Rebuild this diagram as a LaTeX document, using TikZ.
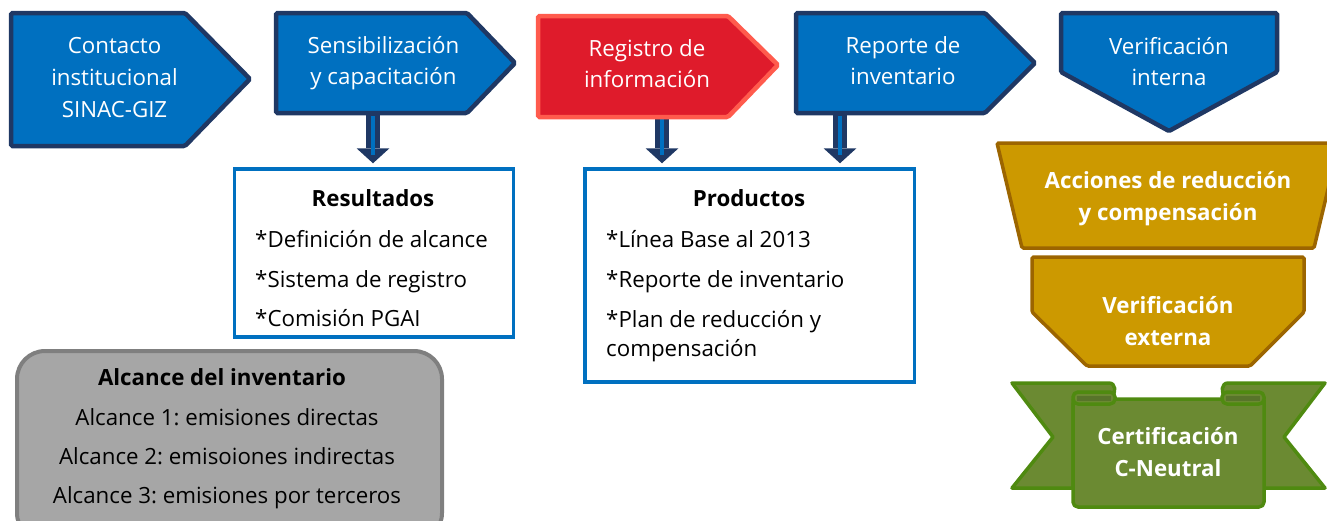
\documentclass[tikz,border=0pt]{standalone}
\usepackage{fontspec}
\setmainfont{Open Sans}
\usetikzlibrary{arrows.meta}
\definecolor{bfill}{HTML}{0070C0}
\definecolor{navy}{HTML}{1F3864}
\definecolor{rfill}{HTML}{DF1B2B}
\definecolor{rline}{HTML}{FF5B4D}
\definecolor{gold}{HTML}{CC9900}
\definecolor{goldline}{HTML}{9C6500}
\definecolor{gfill}{HTML}{6B8A32}
\definecolor{gline}{HTML}{4F8A10}
\definecolor{gdark}{HTML}{58742A}
\definecolor{grayfill}{HTML}{A6A6A6}
\definecolor{grayline}{HTML}{7F7F7F}
\newcommand{\txtfont}{\fontsize{22.3}{27}\selectfont}
\frenchspacing
\begin{document}
\frenchspacing
\begin{tikzpicture}[x=1pt,y=-1pt,
  bluebox/.style={fill=bfill, draw=navy, line width=4.5pt, rounded corners=1.5pt},
  redbox/.style={fill=rfill, draw=rline, line width=4.5pt, rounded corners=1.5pt},
  goldbox/.style={fill=gold, draw=goldline, line width=3.5pt, rounded corners=1.5pt},
  ribbon/.style={fill=gfill, draw=gline, line width=3.5pt, line join=round},
  listbox/.style={draw=bfill, line width=3.5pt, fill=white, inner sep=0pt},
  graybox/.style={draw=grayline, fill=grayfill, line width=4pt, rounded corners=28pt, inner sep=0pt},
  wline/.style={anchor=base, text=white, font=\txtfont, inner sep=0pt},
  wbold/.style={anchor=base, text=white, font=\txtfont\bfseries, inner sep=0pt},
  ktitle/.style={anchor=base, font=\txtfont\bfseries, inner sep=0pt},
  kitem/.style={anchor=base west, font=\txtfont, inner sep=0pt},
  kline/.style={anchor=base, font=\txtfont, inner sep=0pt},
  shaft/.style={draw=navy, line width=14pt, -{Triangle[width=33pt,length=15pt,line width=0pt]}},
  stripe/.style={draw=bfill, line width=4pt}
]
\useasboundingbox (0,0) rectangle (1327,520);

% lower boxes
\node[listbox, minimum width=279pt, minimum height=168pt] (res) at (374,253) {};
\node[listbox, minimum width=329.5pt, minimum height=213pt] (prod) at (749.5,275.5) {};
\node[graybox, minimum width=425pt, minimum height=190pt, anchor=north west] (alc) at (15,349) {};

% block arrows
\coordinate (s1) at (373,110);
\coordinate (s2) at (662,112);
\coordinate (s3) at (840,110);
\draw[shaft, shorten >=4pt] (s1) -- (s1 |- res.north);
\draw[shaft, shorten >=4pt] (s2) -- (s2 |- prod.north);
\draw[shaft, shorten >=4pt] (s3) -- (s3 |- prod.north);
\draw[stripe] ([yshift=-6pt]s1) -- ([yshift=-45pt]s1);
\draw[stripe] ([yshift=-6pt]s2) -- ([yshift=-43pt]s2);
\draw[stripe] ([yshift=-6pt]s3) -- ([yshift=-45pt]s3);

% top process boxes
\draw[bluebox] (11,13) -- (185,13) -- (250,79) -- (185,146) -- (11,146) -- cycle;
\draw[bluebox] (276,13) -- (467,13) -- (515,63) -- (467,113) -- (276,113) -- cycle;
\draw[redbox] (538,16) -- (728,16) -- (778,65) -- (728,117) -- (538,117) -- cycle;
\draw[bluebox] (796,13) -- (985,13) -- (1035,63) -- (985,113) -- (796,113) -- cycle;
\draw[bluebox] (1061,13) -- (1277,13) -- (1277,72) -- (1169,131) -- (1061,72) -- cycle;

\node[wline] (c1) at (114.5,53) {Contacto};
\node[wline] (c2) at (114.5,85) {institucional};
\node[wline] (c3) at (114.5,117) {SINAC-GIZ};
\node[wline] (s1a) at (383.5,53) {Sensibilización};
\node[wline] (s1b) at (383.5,84) {y capacitación};
\node[wline] (r1a) at (647,56) {Registro de};
\node[wline] (r1b) at (647,87) {información};
\node[wline] (p1a) at (903,53) {Reporte de};
\node[wline] (p1b) at (903,84) {inventario};
\node[wline] (v1a) at (1169,54) {Verificación};
\node[wline] (v1b) at (1169,85) {interna};

% right column
\draw[goldbox] (997,143) -- (1339,143) -- (1314,248) -- (1022,248) -- cycle;
\node[wbold] (ac1) at (1168,188) {Acciones de reducción};
\node[wbold] (ac2) at (1168,220) {y compensación};
\draw[goldbox] (1032,257) -- (1304,257) -- (1304,312) -- (1250,366) -- (1087,366) -- (1032,312) -- cycle;
\node[wbold] (ve1) at (1168,313) {Verificación};
\node[wbold] (ve2) at (1168,345) {externa};

% ribbon
\draw[ribbon] (1012,383) -- (1109,383) .. controls (1116,383) and (1116,393) .. (1112,396) -- (1073,400) -- (1073,488) -- (1012,488) -- (1053,437) -- cycle;
\draw[ribbon] (1325,383) -- (1228,383) .. controls (1221,383) and (1221,393) .. (1225,396) -- (1264,400) -- (1264,488) -- (1325,488) -- (1284,437) -- cycle;
\draw[ribbon, rounded corners=5pt] (1073,399) rectangle (1264,507);
\draw[ribbon, rounded corners=5pt] (1073,392) rectangle (1115,404);
\draw[ribbon, rounded corners=5pt] (1222,392) rectangle (1264,404);
\fill[gdark] (1077,396) rectangle (1111,401);
\fill[gdark] (1226,396) rectangle (1260,401);
\node[wbold] (ce1) at (1168,444) {Certificación};
\node[wbold] (ce2) at (1168,476) {C-Neutral};

% list texts
\node[ktitle] (rt) at (373,206) {Resultados};
\node[kitem] (ri1) at (255,247) {*Definición de alcance};
\node[kitem] (ri2) at (255,287) {*Sistema de registro};
\node[kitem] (ri3) at (255,326) {*Comisión PGAI};
\node[ktitle] (pt) at (749,206) {Productos};
\node[kitem] (pi1) at (606,247) {*Línea Base al 2013};
\node[kitem] (pi2) at (606,287) {*Reporte de inventario};
\node[kitem] (pi3) at (606,327) {*Plan de reducción y};
\node[kitem] (pi4) at (606,356) {compensación};

\node[ktitle] (at) at (222,385) {Alcance del inventario};
\node[kline] (a1) at (227,425) {Alcance 1: emisiones directas};
\node[kline] (a2) at (227,464) {Alcance 2: emisoiones indirectas};
\node[kline] (a3) at (227,503) {Alcance 3: emisiones por terceros};
\end{tikzpicture}
\end{document}
